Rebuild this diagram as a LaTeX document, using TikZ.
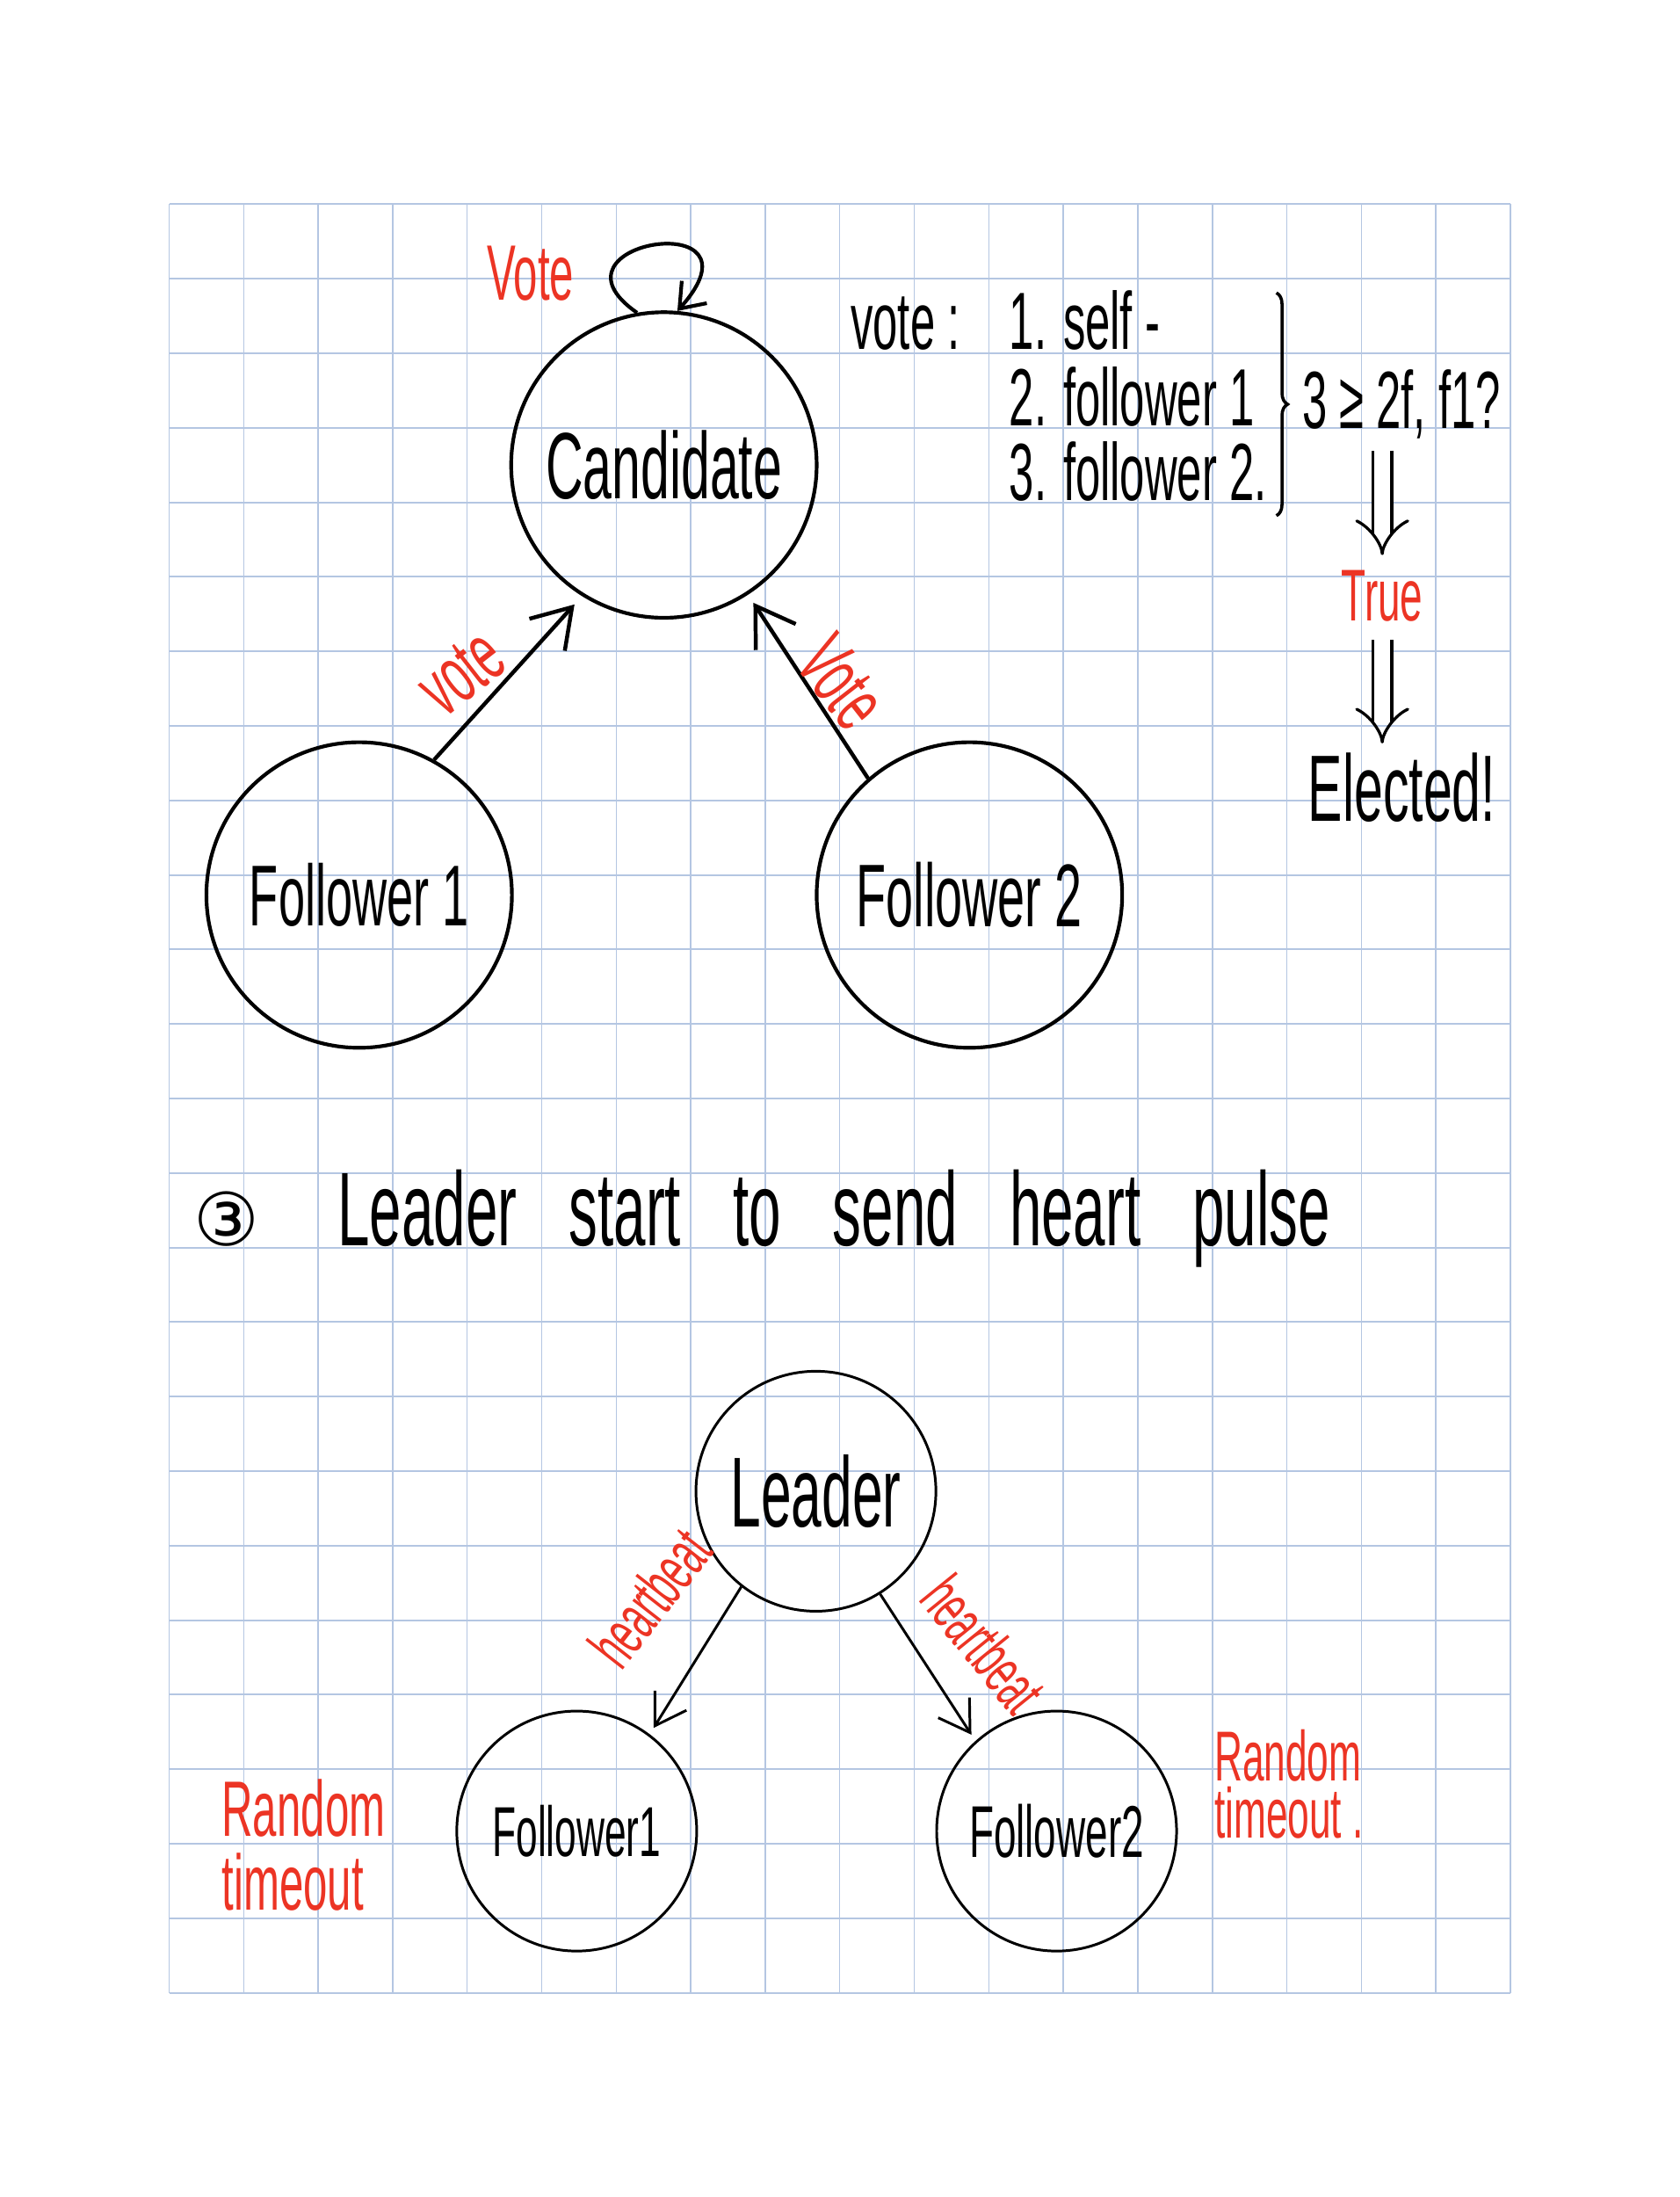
\documentclass[tikz,border=0pt]{standalone}
\usepackage{fontspec}
\setmainfont{Liberation Sans}
\newfontfamily\circfont{DejaVu Sans}
\usepackage{graphicx}
\usetikzlibrary{arrows.meta,decorations.pathreplacing}

\definecolor{gridblue}{RGB}{180,198,226}
\definecolor{penred}{RGB}{236,52,36}

\newcommand{\hw}[1]{\scalebox{0.55}[1]{#1}}

\tikzset{
  bubble/.style={circle, draw, line width=1.4pt, minimum size=4.1cm, inner sep=0pt},
  small bubble/.style={bubble, line width=1pt, minimum size=3.22cm},
  memo/.style={inner sep=0pt, font=\fontsize{31}{36}\selectfont},
  red memo/.style={memo, text=penred},
  push/.style={line width=1.5pt, -{Straight Barb[length=5mm,width=6.4mm]}},
  small push/.style={line width=1pt, -{Straight Barb[length=4mm,width=5mm]}},
  thus/.style={double, double distance=2.2mm, line width=1.1pt, -{Implies[scale=1.3]}},
}

\begin{document}
\begin{tikzpicture}
\useasboundingbox (-2.27,-2.74) rectangle (20.27,26.74);
\foreach \x in {0,...,18} {
  \draw[gridblue, line width=0.5pt] (\x,0) -- (\x,24);
}
\foreach \y in {0,...,24} {
  \draw[gridblue, line width=0.7pt] (0,\y) -- (18,\y);
}

% election
\node[bubble, font=\fontsize{36}{40}\selectfont] (cand) at (6.64,20.50) {\hw{Candidate}};
\node[bubble, font=\fontsize{33}{36}\selectfont] (f1) at (2.55,14.73) {\hw{Follower 1}};
\node[bubble, font=\fontsize{34}{38}\selectfont] (f2) at (10.74,14.73) {\hw{Follower 2}};
\draw[line width=1.4pt, -{Straight Barb[length=3mm,width=4.5mm]}] (cand.100) .. controls (4.9,23.5) and (8.1,24.0) .. (cand.85);
\node[red memo, font=\fontsize{30}{34}\selectfont] (selfvote) at (4.85,23.07) {\hw{Vote}};
\draw[push, shorten >=1.5mm] (f1.61) -- (cand.238);
\draw[push, shorten >=1.3mm] (f2.131) -- (cand.303);
\node[red memo, rotate=38] (vote1) at (3.92,17.71) {\hw{vote}};
\node[red memo, rotate=-52] (vote2) at (9.03,17.59) {\hw{Vote}};

\node[memo, anchor=base west] (tally) at (9.14,22.05) {\hw{vote :}};
\node[memo, anchor=base west] (b1) at (11.27,22.05) {\hw{1. self -}};
\node[memo, anchor=base west] (b2) at (11.27,21.03) {\hw{2. follower 1}};
\node[memo, anchor=base west] (b3) at (11.27,20.02) {\hw{3. follower 2.}};
\draw[line width=1.2pt, decorate, decoration={brace, amplitude=1.5mm}] (14.86,22.81) -- (14.86,19.82);
\node[memo, anchor=base west] (cond) at (15.20,20.99) {\hw{3 ≥ 2f, f1?}};
\node[red memo, font=\fontsize{28}{32}\selectfont] (true) at (16.28,18.74) {\hw{True}};
\node[memo, anchor=base west, font=\fontsize{36}{40}\selectfont] (won) at (15.28,15.72) {\hw{Elected!}};
\draw[thus, shorten <=1.5mm, shorten >=2mm] (cond.south -| true.north) -- (true.north);
\draw[thus, shorten <=2.4mm, shorten >=1.2mm] (true.south) -- (won.north -| true.south);

% heartbeat
\node[memo, anchor=base west, font=\fontsize{40}{44}\selectfont] (pulse) at (0.32,10.02)
  {{\circfont\fontsize{28}{30}\selectfont ③}\hspace{30pt}\hw{\spaceskip=36pt\relax Leader start to send heart pulse}};

\node[small bubble, font=\fontsize{38}{42}\selectfont] (leader) at (8.68,6.73) {\hw{Leader}};
\node[small bubble, font=\fontsize{27}{30}\selectfont] (f1b) at (5.47,2.17) {\hw{Follower1}};
\node[small bubble, font=\fontsize{28}{30}\selectfont] (f2b) at (11.91,2.17) {\hw{Follower2}};
\draw[small push, shorten >=1mm] (leader.232) -- (f1b.53);
\draw[small push, shorten >=1mm] (leader.302) -- (f2b.132);
\node[red memo, rotate=52, font=\fontsize{25}{28}\selectfont] (hb1) at (6.45,5.30) {\hw{heartbeat}};
\node[red memo, rotate=-51, font=\fontsize{25}{28}\selectfont] (hb2) at (10.93,4.68) {\hw{heartbeat}};
\node[red memo, anchor=west, align=left, font=\fontsize{30}{28}\selectfont] (rt1) at (0.70,1.98) {\hw{Random}\\\hw{timeout}};
\node[red memo, anchor=west, align=left, font=\fontsize{27}{22}\selectfont] (rt2) at (14.02,2.80) {\hw{Random}\\\hw{timeout .}};
\end{tikzpicture}
\end{document}
